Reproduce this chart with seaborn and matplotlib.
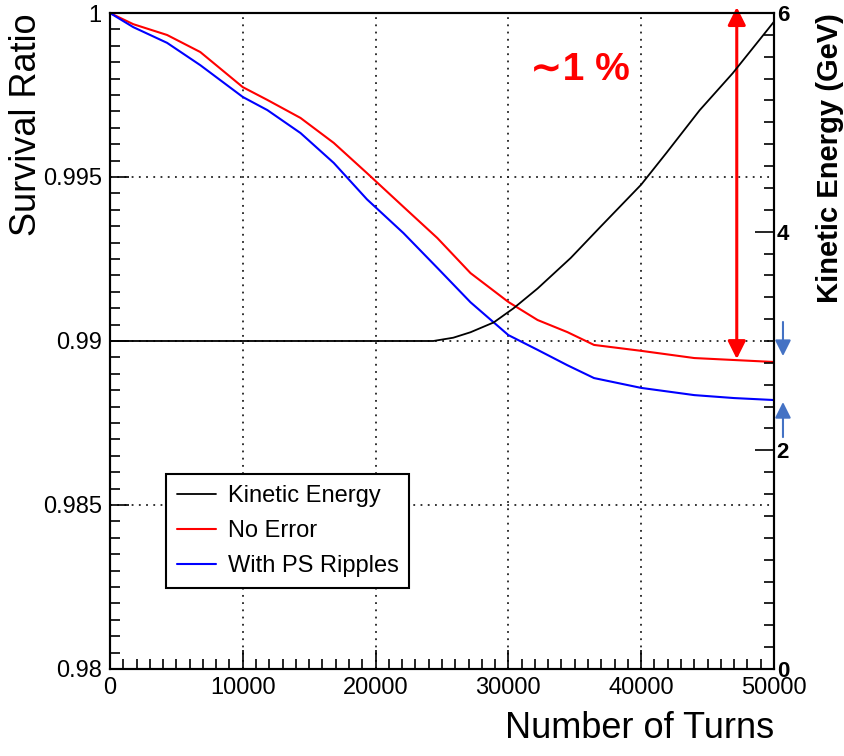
import pandas as pd
import matplotlib
matplotlib.use('Agg')
import matplotlib.pyplot as plt
from matplotlib.ticker import MultipleLocator, FuncFormatter
import seaborn as sns

# valores
turns = [0, 1750, 4300, 6800, 10000, 11850, 14350, 16850, 19350, 22100,
         24650, 27150, 30000, 32200, 34450, 36450, 40000, 44000, 47000, 50000]
no_error = [1.0, 0.99966, 0.99933, 0.99881, 0.99774, 0.99735, 0.99680, 0.99604, 0.99512, 0.99409,
            0.99314, 0.99207, 0.99119, 0.99064, 0.99027, 0.98988, 0.98970, 0.98948, 0.98942, 0.98936]
ps_ripples = [1.0, 0.99957, 0.99909, 0.99841, 0.99744, 0.99704, 0.99634, 0.99543, 0.99432, 0.99329,
              0.99223, 0.99118, 0.99018, 0.98973, 0.98926, 0.98887, 0.98857, 0.98835, 0.98826, 0.98820]

ke_turns = [0, 24350, 25850, 27150, 28900, 30400, 32200, 34700, 36900, 40000, 41900, 44400, 46900, 50000]
kinetic_energy = [3.0, 3.0, 3.03, 3.08, 3.17, 3.30, 3.48, 3.76, 4.04, 4.43, 4.72, 5.11, 5.45, 5.92]

labels = ['Kinetic Energy', 'No Error', 'With PS Ripples']

sns.set_theme(style='ticks')
plt.rcParams['font.family'] = ['Liberation Sans', 'DejaVu Sans']
plt.rcParams['text.color'] = 'black'

fig = plt.figure(figsize=(8.44, 7.56), dpi=100)
ax = fig.add_axes([0.1303, 0.1151, 0.7867, 0.8677])
ax2 = ax.twinx()

df = pd.DataFrame({
    'turns': turns * 2,
    'ratio': no_error + ps_ripples,
    'caso': [labels[1]] * len(turns) + [labels[2]] * len(turns),
})
sns.lineplot(data=df, x='turns', y='ratio', hue='caso',
             palette={labels[1]: '#ff0000', labels[2]: '#0000ff'},
             lw=1.5, ax=ax, legend=False)
sns.lineplot(x=ke_turns, y=kinetic_energy, color='black', lw=1.3, ax=ax2)

ax.set_xlim(0, 50000)
ax.set_ylim(0.98, 1.0)
ax2.set_ylim(0, 6)

# eixos estilo ROOT
ax.xaxis.set_major_locator(MultipleLocator(10000))
ax.xaxis.set_minor_locator(MultipleLocator(1000))
ax.yaxis.set_major_locator(MultipleLocator(0.005))
ax.yaxis.set_minor_locator(MultipleLocator(0.0005))
ax.xaxis.set_major_formatter(FuncFormatter(lambda v, p: f'{int(round(v))}'))
ax.yaxis.set_major_formatter(FuncFormatter(lambda v, p: f'{v:g}'))
ax.tick_params(which='both', direction='in', top=False, right=False, bottom=True, left=True,
               color='black', width=1.2)
ax.tick_params(which='major', length=14)
ax.tick_params(which='minor', length=7)
ax.tick_params(axis='both', labelsize=17, labelcolor='black')
ax.tick_params(axis='x', pad=6)
ax.tick_params(axis='y', pad=6)

ax2.yaxis.set_major_locator(MultipleLocator(2))
ax2.yaxis.set_minor_locator(MultipleLocator(0.2))
ax2.yaxis.set_major_formatter(FuncFormatter(lambda v, p: f'{v:g}'))
ax2.tick_params(axis='y', which='both', direction='in', left=False, right=True,
                color='black', width=1.2, labelsize=16, pad=2, labelcolor='black')
ax2.tick_params(axis='y', which='major', length=14)
ax2.tick_params(axis='y', which='minor', length=7)
for t in ax2.get_yticklabels():
    t.set_fontweight('bold')

for a in (ax, ax2):
    for s in a.spines.values():
        s.set_color('black')
        s.set_linewidth(1.5)

ax.grid(True, which='major', linestyle=(0, (1, 3)), color='#222222', lw=1.3)
ax2.grid(False)

ax.set_xlabel('Number of Turns', fontsize=26, loc='right', color='black')
ax.xaxis.set_label_coords(1.0, -0.064)
ax.set_ylabel('Survival Ratio', fontsize=26, loc='top', color='black')
ax.yaxis.set_label_coords(-0.100, 1.0)
ax2.set_ylabel('Kinetic Energy (GeV)', fontsize=21, fontweight='bold', loc='top', color='black')
ax2.yaxis.set_label_coords(1.064, 1.0)

# legenda
handles = [ax2.lines[0], ax.lines[0], ax.lines[1]]
leg = ax2.legend(handles, labels, loc='center', bbox_to_anchor=(0.268, 0.2105),
                 frameon=True, fancybox=False, edgecolor='black', framealpha=1,
                 fontsize=17, handlelength=1.65, handletextpad=0.5, labelspacing=0.55,
                 borderpad=0.45, labelcolor='black')
leg.get_frame().set_linewidth(1.5)

# setas e anotacao
ax.annotate('', xy=(47200, 1.00018), xytext=(47200, 0.98945),
            arrowprops=dict(arrowstyle='<|-|>', color='#ff0000', lw=2.2,
                            mutation_scale=27, shrinkA=0, shrinkB=0),
            annotation_clip=False)
ax.annotate('', xy=(50680, 0.98954), xytext=(50680, 0.99058),
            arrowprops=dict(arrowstyle='-|>', color='#4472c4', lw=1.5,
                            mutation_scale=24, shrinkA=0, shrinkB=0),
            annotation_clip=False)
ax.annotate('', xy=(50680, 0.98814), xytext=(50680, 0.98707),
            arrowprops=dict(arrowstyle='-|>', color='#4472c4', lw=1.5,
                            mutation_scale=24, shrinkA=0, shrinkB=0),
            annotation_clip=False)
fig.text(0.687, 0.907, '∼1 %', color='#ff0000', fontsize=28, fontweight='bold',
         ha='center', va='center')

fig.savefig('out.png', dpi=100, facecolor='white')
